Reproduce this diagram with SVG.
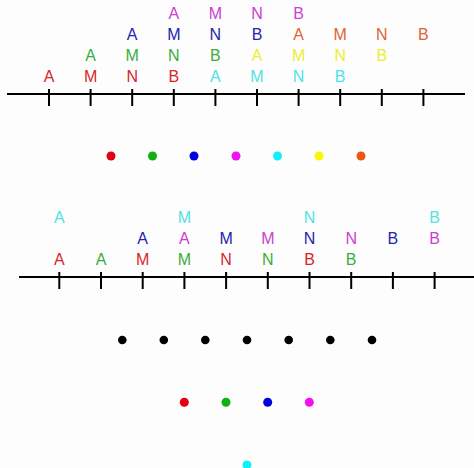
<svg xmlns="http://www.w3.org/2000/svg" width="474" height="468" viewBox="0 0 474 468">
<style>
text{font-family:"Liberation Sans",Arial,sans-serif;font-size:16px;text-anchor:middle}
.ax{stroke:#000;stroke-width:2;fill:none}
.r{fill:#d8262b}.g{fill:#3aad3a}.b{fill:#2424b0}.m{fill:#cc3fd0}.c{fill:#4fe3e3}.y{fill:#eeee30}.o{fill:#dd6530}
</style>
<rect width="474" height="468" fill="#fdfdfd"/>
<g id="axis-top" class="ax">
<line x1="7" y1="94" x2="465" y2="94"/>
<path d="M49 89V106M90.6 89V106M132.2 89V106M173.8 89V106M215.4 89V106M257 89V106M298.6 89V106M340.2 89V106M381.8 89V106M423.4 89V106"/>
</g>
<g id="labels-top">
<text x="49" y="82" class="r">A</text><text x="90.6" y="82" class="r">M</text><text x="132.2" y="82" class="r">N</text><text x="173.8" y="82" class="r">B</text>
<text x="215.4" y="82" class="c">A</text><text x="257" y="82" class="c">M</text><text x="298.6" y="82" class="c">N</text><text x="340.2" y="82" class="c">B</text>
<text x="90.6" y="61" class="g">A</text><text x="132.2" y="61" class="g">M</text><text x="173.8" y="61" class="g">N</text><text x="215.4" y="61" class="g">B</text>
<text x="257" y="61" class="y">A</text><text x="298.6" y="61" class="y">M</text><text x="340.2" y="61" class="y">N</text><text x="381.8" y="61" class="y">B</text>
<text x="132.2" y="40" class="b">A</text><text x="173.8" y="40" class="b">M</text><text x="215.4" y="40" class="b">N</text><text x="257" y="40" class="b">B</text>
<text x="298.6" y="40" class="o">A</text><text x="340.2" y="40" class="o">M</text><text x="381.8" y="40" class="o">N</text><text x="423.4" y="40" class="o">B</text>
<text x="173.8" y="19" class="m">A</text><text x="215.4" y="19" class="m">M</text><text x="257" y="19" class="m">N</text><text x="298.6" y="19" class="m">B</text>
</g>
<g id="dots-top">
<circle cx="111" cy="156" r="4.5" fill="#e00010"/>
<circle cx="152.5" cy="156" r="4.5" fill="#10b010"/>
<circle cx="194" cy="156" r="4.5" fill="#0000dd"/>
<circle cx="236" cy="156" r="4.5" fill="#f010f0"/>
<circle cx="277.5" cy="156" r="4.5" fill="#10f0f8"/>
<circle cx="319" cy="156" r="4.5" fill="#f8f800"/>
<circle cx="361" cy="156" r="4.5" fill="#f05510"/>
</g>
<g id="axis-bottom" class="ax">
<line x1="19" y1="277" x2="474" y2="277"/>
<path d="M59.3 272V289M101 272V289M142.7 272V289M184.4 272V289M226.1 272V289M267.8 272V289M309.5 272V289M351.2 272V289M392.9 272V289M434.6 272V289"/>
</g>
<g id="labels-bottom">
<text x="59.3" y="265" class="r">A</text><text x="101" y="265" class="g">A</text><text x="142.7" y="265" class="r">M</text><text x="184.4" y="265" class="g">M</text>
<text x="226.1" y="265" class="r">N</text><text x="267.8" y="265" class="g">N</text><text x="309.5" y="265" class="r">B</text><text x="351.2" y="265" class="g">B</text>
<text x="142.7" y="244" class="b">A</text><text x="184.4" y="244" class="m">A</text><text x="226.1" y="244" class="b">M</text><text x="267.8" y="244" class="m">M</text>
<text x="309.5" y="244" class="b">N</text><text x="351.2" y="244" class="m">N</text><text x="392.9" y="244" class="b">B</text><text x="434.6" y="244" class="m">B</text>
<text x="59.3" y="223" class="c">A</text><text x="184.4" y="223" class="c">M</text><text x="309.5" y="223" class="c">N</text><text x="434.6" y="223" class="c">B</text>
</g>
<g id="dots-black" fill="#000">
<circle cx="122.3" cy="340" r="4.3"/><circle cx="163.8" cy="340" r="4.3"/><circle cx="205.3" cy="340" r="4.3"/><circle cx="247" cy="340" r="4.3"/><circle cx="288.7" cy="340" r="4.3"/><circle cx="330.3" cy="340" r="4.3"/><circle cx="372" cy="340" r="4.3"/>
</g>
<g id="dots-color">
<circle cx="184.3" cy="402.3" r="4.5" fill="#e00010"/>
<circle cx="226" cy="402.3" r="4.5" fill="#10b010"/>
<circle cx="267.7" cy="402.3" r="4.5" fill="#0000dd"/>
<circle cx="309.3" cy="402.3" r="4.5" fill="#f010f0"/>
</g>
<g id="dot-cyan"><circle cx="247" cy="465" r="4.5" fill="#10f0f8"/></g>
</svg>
